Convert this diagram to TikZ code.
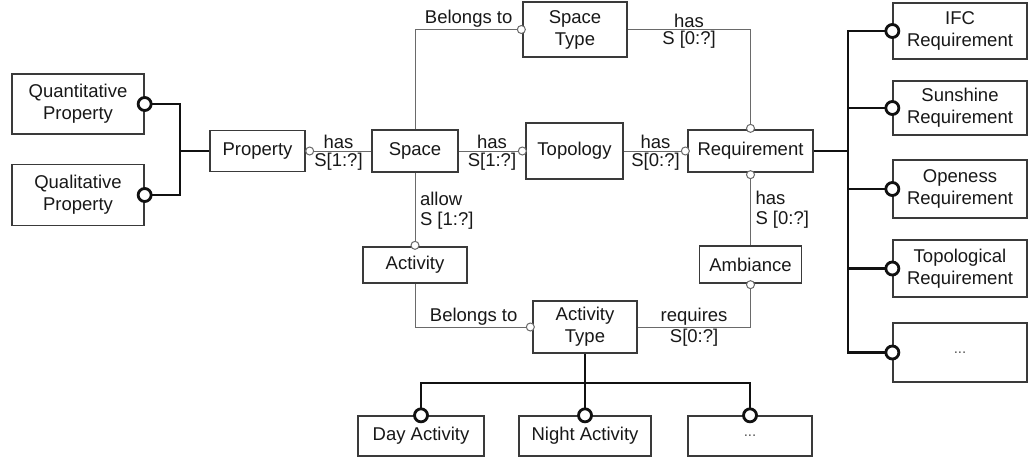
\documentclass[tikz,border=0pt]{standalone}
\usepackage{fontspec}
\setmainfont{Liberation Sans}
\definecolor{boxc}{HTML}{3A3A3A}
\definecolor{relc}{HTML}{6A6A6A}
\definecolor{busc}{HTML}{111111}
\definecolor{txt}{HTML}{181818}
\definecolor{dotc}{HTML}{555555}
\begin{document}
\begin{tikzpicture}[x=1pt,y=-1pt,
  box/.style={draw=boxc, line width=1.3pt, fill=white, inner sep=0pt, align=center, text=txt, font=\fontsize{18.5}{22}\selectfont},
  rel/.style={draw=relc, line width=1pt},
  bus/.style={draw=busc, line width=2.8pt},
  lab/.style={text=txt, font=\fontsize{18.5}{21}\selectfont, inner sep=1.5pt},
  sc/.style={draw=relc, line width=1pt, fill=white},
  bc/.style={draw=busc, line width=2.8pt, fill=white},
  dotsbox/.style={box, text=dotc, font=\fontsize{15}{18}\selectfont}]
\fill[white] (0,0) rectangle (1028,458);
\useasboundingbox (0,0) rectangle (1028,458);

% boxes
\node[box, minimum width=132pt, minimum height=60pt] (quant) at (78,104) {Quantitative\\Property};
\node[box, minimum width=132pt, minimum height=61pt] (qual) at (78,195) {Qualitative\\Property};
\node[box, minimum width=95pt, minimum height=41pt] (prop) at (257.5,151) {Property};
\node[box, minimum width=86pt, minimum height=42pt] (space) at (415,151) {Space};
\node[box, minimum width=104pt, minimum height=55pt] (spacetype) at (575,29.5) {Space\\Type};
\node[box, minimum width=97pt, minimum height=56pt] (topology) at (574.5,151) {Topology};
\node[box, minimum width=125pt, minimum height=42pt] (req) at (750.5,151) {Requirement};
\node[box, minimum width=104pt, minimum height=36pt] (activity) at (415,265) {Activity};
\node[box, minimum width=102pt, minimum height=37pt] (amb) at (750.5,264.5) {Ambiance};
\node[box, minimum width=104pt, minimum height=52pt] (acttype) at (585,327) {Activity\\Type};
\node[box, minimum width=126pt, minimum height=40pt] (day) at (421,436) {Day Activity};
\node[box, minimum width=132pt, minimum height=40pt] (night) at (585,436) {Night Activity};
\node[dotsbox, minimum width=124pt, minimum height=40pt] (dots) at (750,436) {...};
\node[box, minimum width=134pt, minimum height=56pt] (ifc) at (960,31) {IFC\\Requirement};
\node[box, minimum width=134pt, minimum height=54pt] (sun) at (960,108) {Sunshine\\Requirement};
\node[box, minimum width=134pt, minimum height=58pt] (open) at (960,189) {Openess\\Requirement};
\node[box, minimum width=134pt, minimum height=57pt] (topo) at (960,268.5) {Topological\\Requirement};
\node[dotsbox, minimum width=134pt, minimum height=59pt] (dots2) at (960,352.5) {...};

% relationship connectors
\draw[rel] (space.west) -- node[lab, above]{has} node[lab, below]{S[1:?]} (prop.east);
\draw[rel] (space.east) -- node[lab, above]{has} node[lab, below]{S[1:?]} (topology.west);
\draw[rel] (topology.east) -- node[lab, above]{has} node[lab, below]{S[0:?]} (req.west);
\draw[rel] (space.north) |- node[lab, pos=0.75, above]{Belongs to} (spacetype.west);
\draw[rel] (spacetype.east) -| node[lab, pos=0.25, above]{has} node[lab, pos=0.25, below]{S [0:?]} (req.north);
\draw[rel] (space.south) -- node[lab, pos=0.35, right, xshift=3pt]{allow} node[lab, pos=0.65, right, xshift=3pt]{S [1:?]} (activity.north);
\draw[rel] (req.south) -- node[lab, pos=0.35, right, xshift=3pt]{has} node[lab, pos=0.65, right, xshift=3pt]{S [0:?]} (amb.north);
\draw[rel] (activity.south) |- node[lab, pos=0.75, above]{Belongs to} (acttype.west);
\draw[rel] (acttype.east) -| node[lab, pos=0.25, above]{requires} node[lab, pos=0.25, below]{S[0:?]} (amb.south);

% small circles
\draw[sc] ([xshift=4pt]prop.east) circle[radius=4pt];
\draw[sc] ([xshift=-3pt]topology.west) circle[radius=4pt];
\draw[sc] ([xshift=-2pt]req.west) circle[radius=4pt];
\draw[sc] ([xshift=-1pt]spacetype.west) circle[radius=4pt];
\draw[sc] ([yshift=1pt]req.north) circle[radius=4pt];
\draw[sc] ([yshift=-2pt]req.south) circle[radius=4pt];
\draw[sc] ([yshift=1pt]activity.north) circle[radius=4pt];
\draw[sc] ([yshift=-1pt]amb.south) circle[radius=4pt];
\draw[sc] ([xshift=-2pt]acttype.west) circle[radius=4pt];

% subtype buses
\coordinate (busL) at (180,151);
\draw[bus] (prop.west) -- (busL);
\draw[bus] (quant.east) -| (busL) |- (qual.east);

\coordinate (busR) at (848,151);
\draw[bus] (req.east) -- (busR);
\draw[bus] (ifc.west) -| (busR) |- (dots2.west);
\draw[bus] (sun.west) -- (sun.west -| busR);
\draw[bus] (open.west) -- (open.west -| busR);
\draw[bus] (topo.west) -- (topo.west -| busR);

\coordinate (busB) at (585,383);
\draw[bus] (acttype.south) -- (busB);
\draw[bus] (day.north) |- (busB) -| (dots.north);
\draw[bus] (night.north) -- (busB);

\foreach \n in {quant.east, qual.east, ifc.west, sun.west, open.west, topo.west, dots2.west, day.north, night.north, dots.north}
  \draw[bc] (\n) circle[radius=6.5pt];
\end{tikzpicture}
\end{document}
